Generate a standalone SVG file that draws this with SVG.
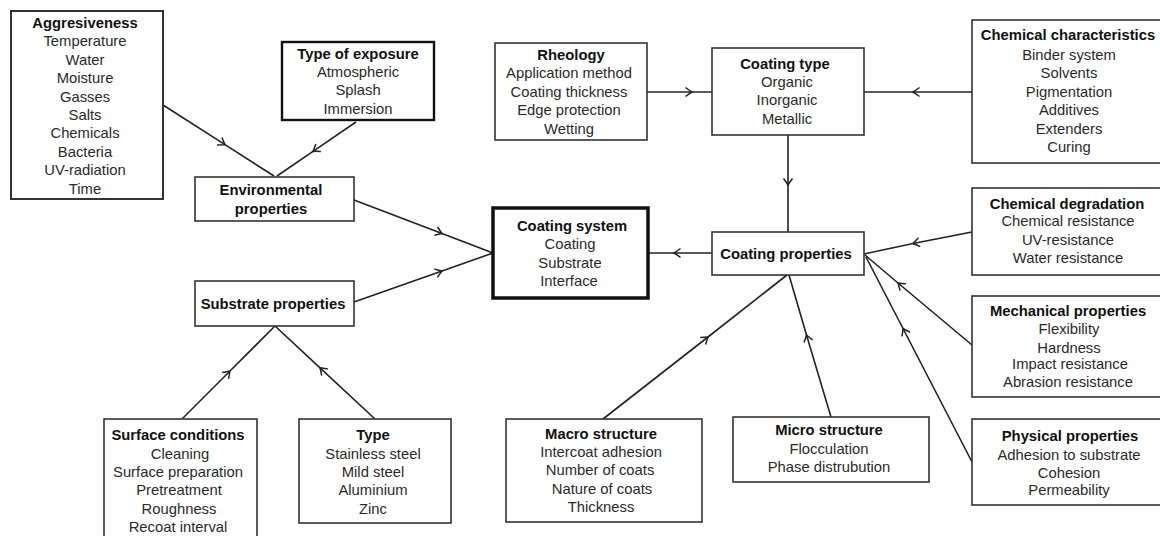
<svg xmlns="http://www.w3.org/2000/svg" width="1160" height="536" viewBox="0 0 1160 536">
<style>
  .box { fill: #fff; stroke: #333; stroke-width: 1.6; }
  .thick { stroke: #111; stroke-width: 2.4; }
  .main { stroke: #111; stroke-width: 3.5; }
  text { font-family: "Liberation Sans", Arial, sans-serif; font-size: 14.8px; fill: #2a2a2a; text-anchor: middle; }
  .t { font-weight: bold; fill: #111; }
  .c { fill: none; stroke: #222; stroke-width: 1.6; marker-mid: url(#chev); }
</style>
<defs>
  <marker id="chev" markerUnits="userSpaceOnUse" markerWidth="14" markerHeight="14" refX="7" refY="7" orient="auto" viewBox="0 0 14 14" overflow="visible">
    <path d="M0.5,2.5 Q4.5,5.5 7,7 Q4.5,8.5 0.5,11.5" fill="none" stroke="#222" stroke-width="1.5"/>
  </marker>
</defs>
<rect width="1160" height="536" fill="#fff"/>

<g id="connectors">
  <path class="c" d="M163,105 L225,144.7 L274,176"/>
  <path class="c" d="M356,122 L313,151.4 L277,176"/>
  <path class="c" d="M354,200 L442,233.5 L493,253"/>
  <path class="c" d="M354,302 L442,271 L493,253"/>
  <path class="c" d="M182,419 L230,371 L275,326"/>
  <path class="c" d="M375,419 L320,367.8 L275,326"/>
  <path class="c" d="M647,92 L692,92 L712,92"/>
  <path class="c" d="M972,92 L913,92 L864,92"/>
  <path class="c" d="M788,135 L788,185 L788,232"/>
  <path class="c" d="M712,253 L674,253 L648,253"/>
  <path class="c" d="M972,232 L913,243.5 L864,254"/>
  <path class="c" d="M972,345 L898,283 L865,255"/>
  <path class="c" d="M972,462 L903,328.5 L866,257"/>
  <path class="c" d="M831,417 L806.5,335 L789,275"/>
  <path class="c" d="M603,419 L708,337 L787,275"/>
</g>

<g id="aggressiveness">
  <rect class="box" x="11" y="11" width="152" height="188" style="stroke-width:2"/>
  <text class="t" x="85" y="28">Aggresiveness</text>
  <text x="85" y="46.3">Temperature</text>
  <text x="85" y="64.7">Water</text>
  <text x="85" y="83.1">Moisture</text>
  <text x="85" y="101.5">Gasses</text>
  <text x="85" y="119.9">Salts</text>
  <text x="85" y="138.3">Chemicals</text>
  <text x="85" y="156.7">Bacteria</text>
  <text x="85" y="175.1">UV-radiation</text>
  <text x="85" y="193.5">Time</text>
</g>

<g id="type-of-exposure">
  <rect class="box thick" x="282" y="42" width="152" height="78"/>
  <text class="t" x="358" y="58.5">Type of exposure</text>
  <text x="358" y="76.5">Atmospheric</text>
  <text x="358" y="95">Splash</text>
  <text x="358" y="113.5">Immersion</text>
</g>

<g id="environmental-properties">
  <rect class="box" x="195" y="177" width="159" height="44"/>
  <text class="t" x="271" y="195">Environmental</text>
  <text class="t" x="271" y="214">properties</text>
</g>

<g id="substrate-properties">
  <rect class="box" x="195" y="281" width="159" height="45"/>
  <text class="t" x="273" y="309">Substrate properties</text>
</g>

<g id="surface-conditions">
  <rect class="box" x="104" y="419" width="153" height="122"/>
  <text class="t" x="178" y="440.2">Surface conditions</text>
  <text x="180" y="458.5">Cleaning</text>
  <text x="178" y="476.9">Surface preparation</text>
  <text x="179" y="495.2">Pretreatment</text>
  <text x="179" y="513.5">Roughness</text>
  <text x="178" y="531.5">Recoat interval</text>
</g>

<g id="type">
  <rect class="box" x="299" y="419" width="152" height="104"/>
  <text class="t" x="373" y="440.2">Type</text>
  <text x="373" y="458.5">Stainless steel</text>
  <text x="373" y="476.9">Mild steel</text>
  <text x="373" y="495.2">Aluminium</text>
  <text x="373" y="513.5">Zinc</text>
</g>

<g id="rheology">
  <rect class="box" x="495" y="43" width="152" height="97"/>
  <text class="t" x="571" y="60.2">Rheology</text>
  <text x="569" y="78">Application method</text>
  <text x="569" y="96.8">Coating thickness</text>
  <text x="569" y="115.2">Edge protection</text>
  <text x="569" y="133.5">Wetting</text>
</g>

<g id="coating-type">
  <rect class="box" x="712" y="48" width="152" height="87"/>
  <text class="t" x="785" y="68.5">Coating type</text>
  <text x="787" y="86.9">Organic</text>
  <text x="787" y="105.2">Inorganic</text>
  <text x="787" y="123.5">Metallic</text>
</g>

<g id="chemical-characteristics">
  <rect class="box" x="972" y="20" width="200" height="143"/>
  <text class="t" x="1068" y="40.2">Chemical characteristics</text>
  <text x="1069" y="59.5">Binder system</text>
  <text x="1069" y="77.9">Solvents</text>
  <text x="1069" y="96.9">Pigmentation</text>
  <text x="1069" y="115.2">Additives</text>
  <text x="1069" y="133.5">Extenders</text>
  <text x="1069" y="151.9">Curing</text>
</g>

<g id="chemical-degradation">
  <rect class="box" x="972" y="188" width="200" height="87"/>
  <text class="t" x="1067" y="209.2">Chemical degradation</text>
  <text x="1068" y="225.9">Chemical resistance</text>
  <text x="1068" y="244.5">UV-resistance</text>
  <text x="1068" y="262.9">Water resistance</text>
</g>

<g id="coating-properties">
  <rect class="box" x="712" y="232" width="152" height="43"/>
  <text class="t" x="786" y="258.5">Coating properties</text>
</g>

<g id="coating-system">
  <rect class="box main" x="493" y="208" width="155" height="90"/>
  <text class="t" x="572" y="230.9">Coating system</text>
  <text x="570" y="249.2">Coating</text>
  <text x="570" y="267.5">Substrate</text>
  <text x="569" y="285.9">Interface</text>
</g>

<g id="macro-structure">
  <rect class="box" x="506" y="419" width="196" height="103"/>
  <text class="t" x="601" y="438.5">Macro structure</text>
  <text x="601" y="456.9">Intercoat adhesion</text>
  <text x="600" y="475.2">Number of coats</text>
  <text x="602" y="494.2">Nature of coats</text>
  <text x="601" y="511.9">Thickness</text>
</g>

<g id="micro-structure">
  <rect class="box" x="733" y="417" width="196" height="65"/>
  <text class="t" x="829" y="435.2">Micro structure</text>
  <text x="829" y="453.5">Flocculation</text>
  <text x="829" y="471.9">Phase distrubution</text>
</g>

<g id="mechanical-properties">
  <rect class="box" x="972" y="296" width="200" height="101"/>
  <text class="t" x="1068" y="315.9">Mechanical properties</text>
  <text x="1069" y="334.2">Flexibility</text>
  <text x="1069" y="352.5">Hardness</text>
  <text x="1070" y="369.2">Impact resistance</text>
  <text x="1068" y="386.9">Abrasion resistance</text>
</g>

<g id="physical-properties">
  <rect class="box" x="972" y="419" width="200" height="86"/>
  <text class="t" x="1070" y="441.2">Physical properties</text>
  <text x="1069" y="459.5">Adhesion to substrate</text>
  <text x="1069" y="477.9">Cohesion</text>
  <text x="1069" y="495.2">Permeability</text>
</g>
</svg>
